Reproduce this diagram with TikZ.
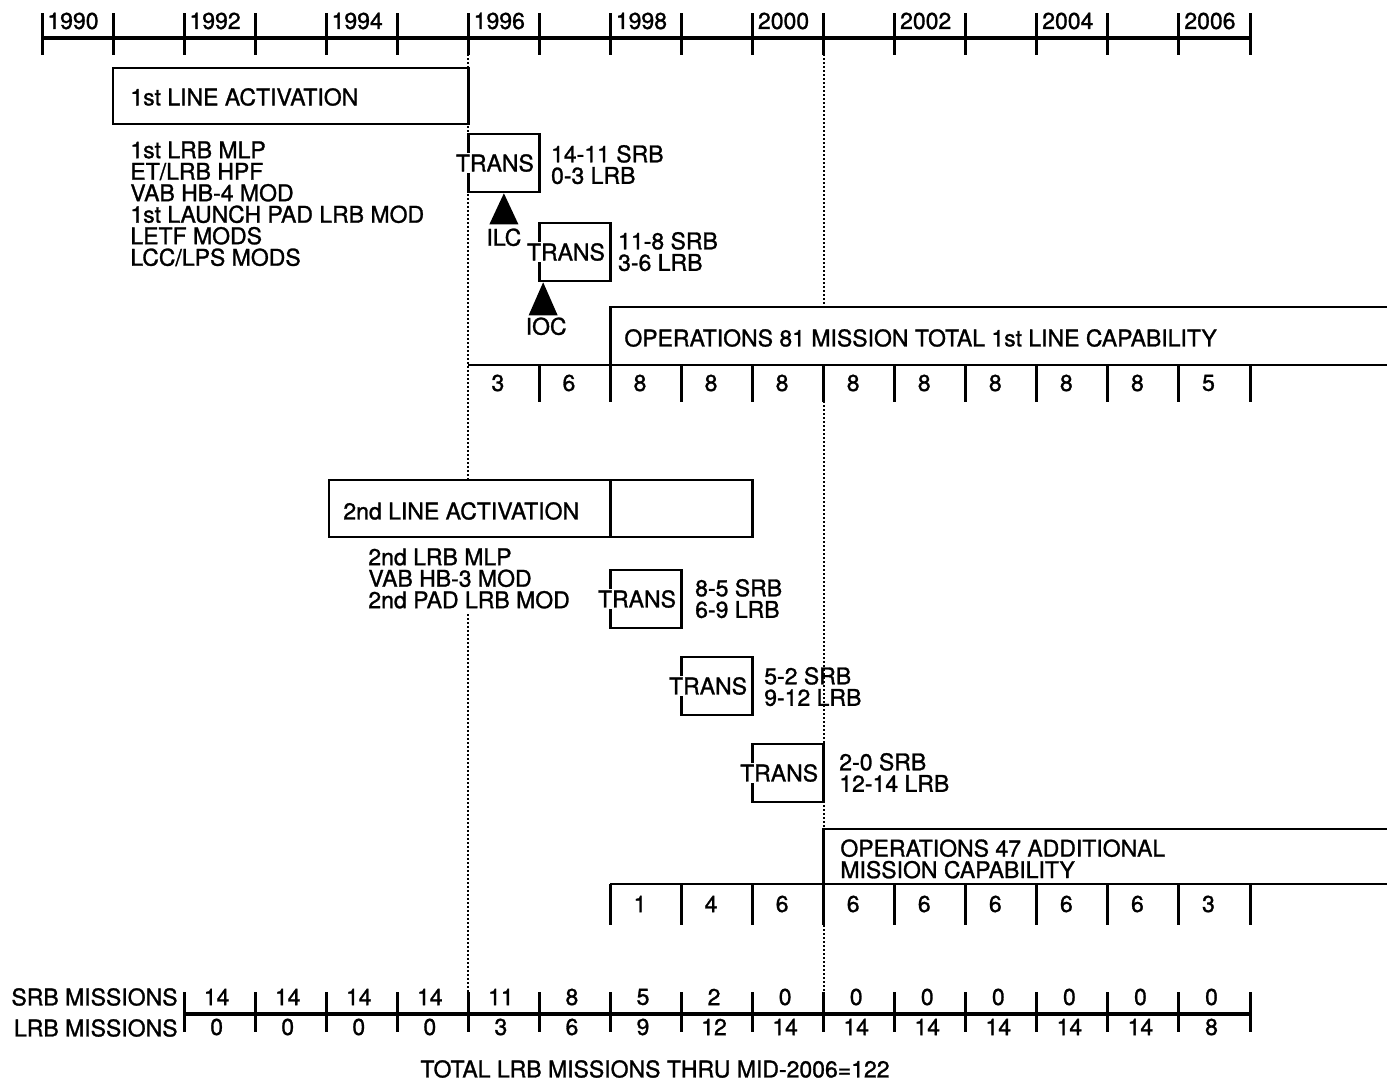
\documentclass[tikz,border=0pt]{standalone}
\usepackage{fontspec}
\setmainfont{TeX Gyre Heros}[FakeBold=1.2]
\usetikzlibrary{
    calc,
    positioning
}
\definecolor{ink}{RGB}{0,0,0}
\newcommand{\chartfont}{\fontsize{11.5pt}{10.75pt}\selectfont}
\newcommand{\tx}[1]{42+71.06*(#1)}
\tikzset{
    axisline/.style={
        draw=ink,
        line width=1.7pt
    },
    tickmark/.style={
        draw=ink,
        line width=1.5pt
    },
    frame/.style={
        draw=ink,
        line width=1.3pt
    },
    guide/.style={
        draw=ink,
        densely dotted,
        line width=1pt
    },
    annot/.style={
        font=\chartfont,
        text=ink,
        inner sep=0pt,
        align=left
    },
    yearlabel/.style={
        annot,
        anchor=west
    },
    cellnum/.style={
        annot
    },
    transbox/.style={
        rectangle,
        draw=ink,
        line width=1.3pt,
        minimum width=35.5pt,
        minimum height=29pt,
        inner sep=0pt
    },
    transtext/.style={
        annot,
        fill=white,
        inner sep=0.6pt
    },
    milestone/.style={
        fill=ink
    }
}

\begin{document}
\begin{tikzpicture}[x=0.5pt, y=-0.5pt]
\useasboundingbox (0,0) rectangle (1393,1082);

% Year scale
\foreach \i in {0,...,17} {
    \coordinate (yr\i) at ({\tx{\i}}, 38);
    \draw[tickmark] ($(yr\i)+(0,-25)$) -- ($(yr\i)+(0,17)$);
}
\draw[axisline] (yr0) -- (yr17);
\foreach \i/\yr in {0/1990, 2/1992, 4/1994, 6/1996, 8/1998, 10/2000, 12/2002, 14/2004, 16/2006} {
    \node[yearlabel] (year\yr) at ($(yr\i)+(5,-17)$) {\yr};
}

% Guide lines (broken where the 2nd activation block and the ops text sit)
\draw[guide] (yr6) -- (yr6 |- 0,480);
\draw[guide] (yr6 |- 0,614) -- (yr6 |- 0,1030);
\draw[guide] (yr11) -- (yr11 |- 0,307);
\draw[guide] (yr11 |- 0,365) -- (yr11 |- 0,1030);

% 1st line activation
\draw[frame] (yr1 |- 0,68) rectangle (yr6 |- 0,124);
\node[annot, anchor=west] (act1) at (130,97) {1st LINE ACTIVATION};
\node[annot, anchor=north west] (mods1) at (130,141)
    {1st LRB MLP\\ET/LRB HPF\\VAB HB-4 MOD\\1st LAUNCH PAD LRB MOD\\LETF MODS\\LCC/LPS MODS};

% Transitions, 1st line
\node[transbox] (trans1) at ({\tx{6.5}},163) {};
\node[transtext] (trans1-t) at ([xshift=-4.5pt]trans1.center) {TRANS};
\node[annot, anchor=north west] (trans1-l) at ([xshift=5pt, yshift=-6pt]trans1.north east) {14-11 SRB\\0-3 LRB};
\fill[milestone] (trans1.south) -- ++(-14.5,31) -- ++(29,0) -- cycle;
\node[annot] (ilc) at ($(trans1.south)+(0,44)$) {ILC};

\node[transbox] (trans2) at ({\tx{7.5}},252) {};
\node[transtext] (trans2-t) at ([xshift=-4.5pt]trans2.center) {TRANS};
\node[annot, anchor=north west] (trans2-l) at ([xshift=3pt, yshift=-5pt]trans2.north east) {11-8 SRB\\3-6 LRB};
\fill[milestone] ([xshift=2.5pt]trans2.south west) -- ++(-14.5,33) -- ++(29,0) -- cycle;
\node[annot] (ioc) at ($(trans2.south west)+(8,44)$) {IOC};

% Operations, 1st line
\draw[frame] (yr8 |- 0,365) -- (yr8 |- 0,307) -- (1387,307);
\draw[frame] (yr6 |- 0,365) -- (1387,365);
\node[annot, anchor=west] (ops1) at (624,338) {OPERATIONS 81 MISSION TOTAL 1st LINE CAPABILITY};
\foreach \i in {7,...,17} {
    \draw[tickmark] (yr\i |- 0,365) -- (yr\i |- 0,402);
}
\foreach \v [count=\k from 6] in {3,6,8,8,8,8,8,8,8,8,5} {
    \node[cellnum] (ops1-\k) at ({\tx{\k+0.5}-6}, 383) {\v};
}

% 2nd line activation
\draw[frame] (329,480) rectangle (yr10 |- 0,537);
\draw[frame] (yr8 |- 0,480) -- (yr8 |- 0,537);
\node[annot, anchor=west] (act2) at (343,511) {2nd LINE ACTIVATION};
\node[annot, anchor=north west] (mods2) at (368,548)
    {2nd LRB MLP\\VAB HB-3 MOD\\2nd PAD LRB MOD};

% Transitions, 2nd line
\node[transbox] (trans3) at ({\tx{8.5}},599) {};
\node[transtext] (trans3-t) at ([xshift=-4.5pt]trans3.center) {TRANS};
\node[annot, anchor=north west] (trans3-l) at ([xshift=6pt, yshift=-5pt]trans3.north east) {8-5 SRB\\6-9 LRB};

\node[transbox] (trans4) at ({\tx{9.5}},686) {};
\node[transtext] (trans4-t) at ([xshift=-4.5pt]trans4.center) {TRANS};
\node[annot, anchor=north west] (trans4-l) at ([xshift=5pt, yshift=-5.5pt]trans4.north east) {5-2 SRB\\9-12 LRB};

\node[transbox] (trans5) at ({\tx{10.5}},773) {};
\node[transtext] (trans5-t) at ([xshift=-4.5pt]trans5.center) {TRANS};
\node[annot, anchor=north west] (trans5-l) at ([xshift=7pt, yshift=-5pt]trans5.north east) {2-0 SRB\\12-14 LRB};

% Operations, 2nd line
\draw[frame] (yr11 |- 0,884) -- (yr11 |- 0,829) -- (1387,829);
\draw[frame] (yr8 |- 0,884) -- (1387,884);
\node[annot, anchor=north west] (ops2) at (840,839) {OPERATIONS 47 ADDITIONAL\\MISSION CAPABILITY};
\foreach \i in {8,...,17} {
    \draw[tickmark] (yr\i |- 0,884) -- (yr\i |- 0,925);
}
\foreach \v [count=\k from 8] in {1,4,6,6,6,6,6,6,3} {
    \node[cellnum] (ops2-\k) at ({\tx{\k+0.5}-6}, 904) {\v};
}

% Mission counts
\draw[axisline] (yr2 |- 0,1014) -- (yr17 |- 0,1014);
\foreach \i in {2,...,17} {
    \draw[tickmark] (yr\i |- 0,992) -- (yr\i |- 0,1032);
}
\node[annot, anchor=east] (srb) at (178,997) {SRB MISSIONS};
\node[annot, anchor=east] (lrb) at (178,1028) {LRB MISSIONS};
\foreach \s/\l [count=\k from 2] in {14/0, 14/0, 14/0, 14/0, 11/3, 8/6, 5/9, 2/12, 0/14, 0/14, 0/14, 0/14, 0/14, 0/14, 0/8} {
    \node[cellnum] (srb-\k) at ({\tx{\k+0.5}-3}, 997) {\s};
    \node[cellnum] (lrb-\k) at ({\tx{\k+0.5}-3}, 1027) {\l};
}
\node[annot] (total) at (655,1069) {TOTAL LRB MISSIONS THRU MID-2006=122};
\end{tikzpicture}
\end{document}
